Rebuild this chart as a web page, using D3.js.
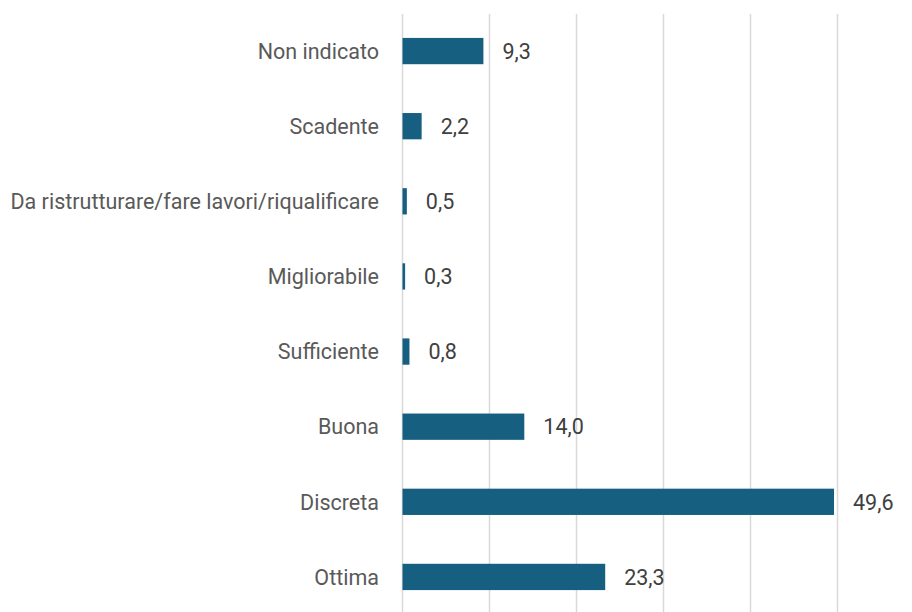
<!DOCTYPE html>
<html><head><meta charset="utf-8">
<script src="https://cdn.jsdelivr.net/npm/d3@7"></script>
<style>body{margin:0;background:#fff}</style>
</head><body>
<svg id="c" width="912" height="612"></svg>
<script>
const categories = ["Non indicato","Scadente","Da ristrutturare/fare lavori/riqualificare","Migliorabile","Sufficiente","Buona","Discreta","Ottima"];
const values = [9.3,2.2,0.5,0.3,0.8,14.0,49.6,23.3];
const xTicks = [0,10,20,30,40,50];

const svg = d3.select("#c");
const x = d3.scaleLinear().domain([0,50]).range([402.5,837.5]);
const y = d3.scaleBand().domain(categories).range([13.5,614.5]).paddingInner(0.65).paddingOuter(0.325);

svg.append("g").selectAll("line").data(xTicks).join("line")
  .attr("x1",d=>x(d)).attr("x2",d=>x(d)).attr("y1",14).attr("y2",612)
  .attr("stroke","#d9d9d9").attr("stroke-width",1.5);

svg.append("g").selectAll("rect").data(values).join("rect")
  .attr("x",x(0)).attr("y",(d,i)=>y(categories[i]))
  .attr("width",d=>x(d)-x(0)).attr("height",y.bandwidth())
  .attr("fill","#175f80");

const fmt = d=>d.toFixed(1).replace(".",",");
svg.append("g").selectAll("text").data(values).join("text")
  .attr("x",d=>x(d)+19).attr("y",(d,i)=>y(categories[i])+y.bandwidth()/2)
  .attr("dy","0.36em").attr("font-family","Roboto").attr("font-size",21.5)
  .attr("fill","#404040").text(fmt);

svg.append("g").selectAll("text").data(categories).join("text")
  .attr("x",379).attr("y",d=>y(d)+y.bandwidth()/2)
  .attr("dy","0.36em").attr("text-anchor","end").attr("font-family","Roboto").attr("font-size",21.5)
  .attr("fill","#595959").text(d=>d);
</script>
</body></html>
